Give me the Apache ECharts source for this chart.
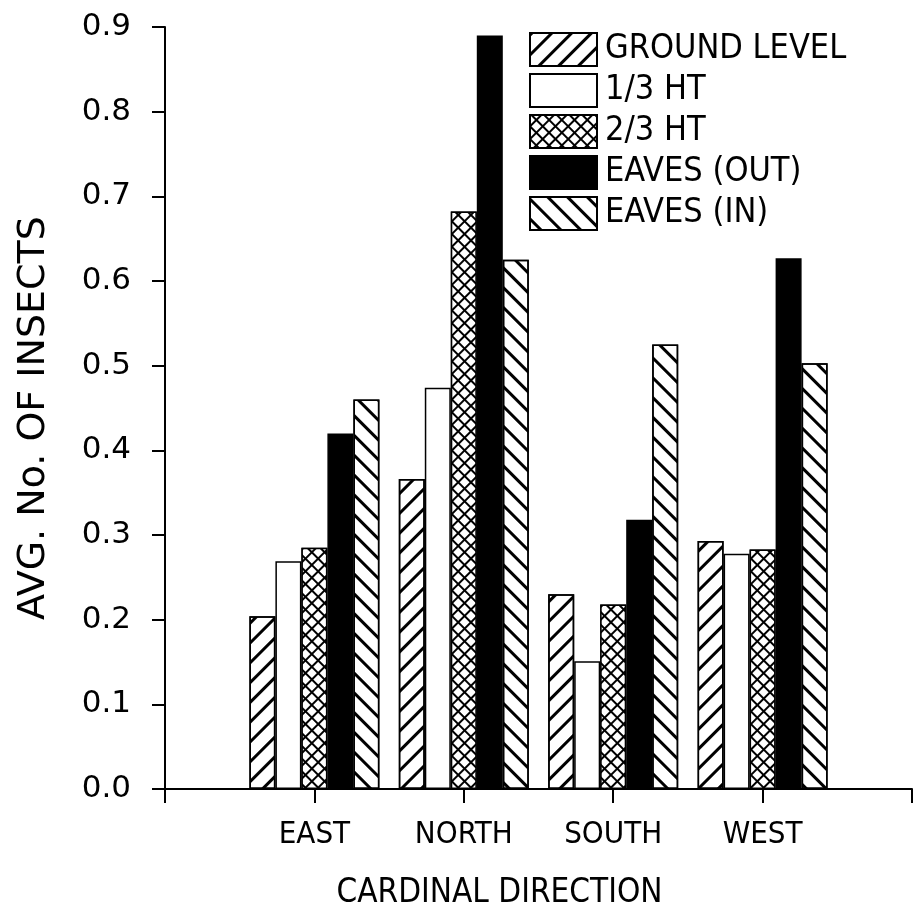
<!DOCTYPE html>
<html>
<head>
<meta charset="utf-8">
<script src="https://cdn.jsdelivr.net/npm/echarts@6/dist/echarts.min.js"></script>
<style>
    html, body { margin: 0; padding: 0; background: #fff; }
    #insectChart { width: 915px; height: 918px; }
</style>
</head>
<body>
<div id="insectChart"></div>
<script>
// directions, with an empty slot on each side of the axis
const directions = ['', 'EAST', 'NORTH', 'SOUTH', 'WEST', ''];
const seriesNames = ['GROUND LEVEL', '1/3 HT', '2/3 HT', 'EAVES (OUT)', 'EAVES (IN)'];
const groundLevel = [0.204, 0.366, 0.230, 0.293];
const oneThirdHt = [0.269, 0.474, 0.151, 0.278];
const twoThirdHt = [0.285, 0.682, 0.218, 0.283];
const eavesOut = [0.420, 0.890, 0.318, 0.627];
const eavesIn = [0.460, 0.625, 0.525, 0.503];
const yTicks = [0, 0.1, 0.2, 0.3, 0.4, 0.5, 0.6, 0.7, 0.8, 0.9];

const fontMain = 'DejaVu Sans Condensed, DejaVu Sans, sans-serif';

// "/" lines
const hatchUp = {
    symbol: 'rect', symbolSize: 1,
    dashArrayX: [1, 0], dashArrayY: [2.8, 10.2],
    rotation: -Math.PI / 4, color: '#000'
};
// "\" lines
const hatchDown = {
    symbol: 'rect', symbolSize: 1,
    dashArrayX: [1, 0], dashArrayY: [2.8, 10.2],
    rotation: Math.PI / 4, color: '#000'
};
const crossHatch = {
    symbol: 'rect', symbolSize: 1,
    dashArrayX: [7, 2], dashArrayY: [7, 2],
    rotation: Math.PI / 4, color: '#fff', backgroundColor: '#000'
};

function pad(arr) {
    return ['-'].concat(arr, ['-']);
}

function makeBar(name, values, fill, decal) {
    const itemStyle = {
        color: fill,
        borderColor: '#000',
        borderWidth: 1.5
    };
    if (decal) itemStyle.decal = decal;
    return {
        name: name,
        type: 'bar',
        barWidth: 26,
        barGap: '0%',
        itemStyle: itemStyle,
        emphasis: { disabled: true },
        data: pad(values)
    };
}

const myChart = echarts.init(document.getElementById('insectChart'), null, { renderer: 'canvas' });

const option = {
    backgroundColor: '#fff',
    animation: false,
    grid: {
        left: 165,
        top: 27,
        width: 755,
        bottom: 129,
        containLabel: false
    },
    legend: {
        orient: 'vertical',
        left: 529,
        top: 32,
        padding: 0,
        itemWidth: 67,
        itemHeight: 33,
        itemGap: 6,
        icon: 'rect',
        selectedMode: false,
        data: seriesNames,
        textStyle: {
            fontFamily: fontMain,
            fontSize: 34,
            color: '#000',
            lineHeight: 33,
            padding: [0, 0, 0, 3]
        }
    },
    xAxis: {
        type: 'category',
        data: directions,
        boundaryGap: false,
        name: 'CARDINAL DIRECTION',
        nameLocation: 'middle',
        nameGap: 88,
        nameTextStyle: {
            fontFamily: fontMain,
            fontSize: 33,
            color: '#000',
            padding: [0, 78, 0, 0]
        },
        axisLine: { lineStyle: { color: '#000', width: 2 } },
        axisTick: {
            interval: 0,
            length: 14,
            lineStyle: { color: '#000', width: 2 }
        },
        axisLabel: {
            interval: 0,
            margin: 30,
            fontFamily: fontMain,
            fontSize: 31,
            color: '#000'
        },
        splitLine: { show: false }
    },
    yAxis: {
        type: 'value',
        min: yTicks[0],
        max: yTicks[yTicks.length - 1],
        interval: 0.1,
        name: 'AVG. No. OF INSECTS',
        nameLocation: 'middle',
        nameGap: 112,
        nameTextStyle: {
            fontFamily: 'DejaVu Sans, sans-serif',
            fontSize: 38,
            color: '#000',
            padding: [0, 20, 0, 0]
        },
        axisLine: { show: true, lineStyle: { color: '#000', width: 2 } },
        axisTick: {
            show: true,
            length: 13,
            lineStyle: { color: '#000', width: 2 }
        },
        axisLabel: {
            margin: 34,
            fontFamily: 'DejaVu Sans, sans-serif',
            fontSize: 31,
            color: '#000',
            formatter: function (v) {
                return v.toFixed(1);
            }
        },
        splitLine: { show: false }
    },
    series: [
        makeBar(seriesNames[0], groundLevel, '#fff', hatchUp),
        makeBar(seriesNames[1], oneThirdHt, '#fff', null),
        makeBar(seriesNames[2], twoThirdHt, '#000', crossHatch),
        makeBar(seriesNames[3], eavesOut, '#000', null),
        makeBar(seriesNames[4], eavesIn, '#fff', hatchDown)
    ]
};

myChart.setOption(option);
window.addEventListener('resize', () => {
    myChart.resize();
});
</script>
</body>
</html>
